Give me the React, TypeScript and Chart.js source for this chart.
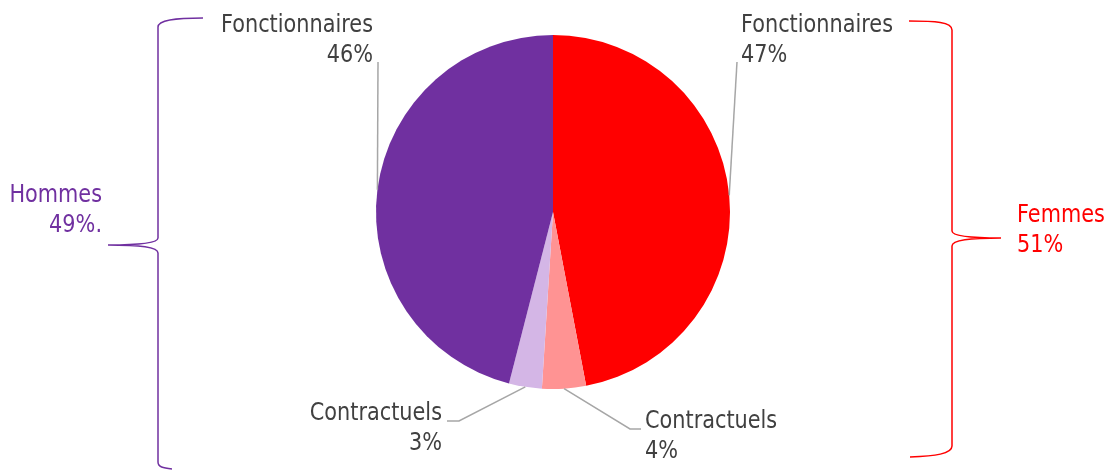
import React, { useEffect, useRef } from "react";
import { Chart, registerables } from "chart.js";

Chart.register(...registerables);

const categories = ["Fonctionnaires", "Contractuels", "Contractuels", "Fonctionnaires"];
const values = [47, 4, 3, 46];
const percentLabels = ["47%", "4%", "3%", "46%"];
const groupNames = ["Femmes", "Hommes"];
const groupPercents = ["51%", "49%."];

const sliceColors = ["#FF0000", "#FF9393", "#D4B6E6", "#7030A0"];
const groupColors = ["#FF0000", "#7030A0"];

// label layout: text anchor, alignment, leader path points after the arc midpoint
const labelLayout = [
  { x: 741, y: 32, align: "left", path: [[737, 62]] },
  { x: 645, y: 428, align: "left", path: [[630, 429], [641, 429]] },
  { x: 442, y: 420, align: "right", path: [[459, 421], [447, 421]] },
  { x: 373, y: 32, align: "right", path: [[378, 62]] },
];

const FONT = "24px 'DejaVu Sans'";
const TEXT_COLOR = "#404040";
const LINE_GAP = 30;

function drawText(ctx: CanvasRenderingContext2D, sx: number, text: string, x: number, y: number, align: CanvasTextAlign, color: string) {
  ctx.save();
  ctx.translate(x, y);
  ctx.scale(sx, 1);
  ctx.font = FONT;
  ctx.textAlign = align;
  ctx.textBaseline = "alphabetic";
  ctx.fillStyle = color;
  ctx.fillText(text, 0, 0);
  ctx.restore();
}

const annotations = {
  id: "annotations",
  afterDraw(chart: any) {
    const ctx: CanvasRenderingContext2D = chart.ctx;
    ctx.save();
    ctx.font = FONT;
    const sx = 152 / ctx.measureText("Fonctionnaires").width;
    const meta = chart.getDatasetMeta(0);
    meta.data.forEach((arc: any, i: number) => {
      const { x, y, startAngle, endAngle, outerRadius } = arc.getProps(["x", "y", "startAngle", "endAngle", "outerRadius"], true);
      const mid = (startAngle + endAngle) / 2;
      const px = x + Math.cos(mid) * outerRadius;
      const py = y + Math.sin(mid) * outerRadius;
      const L = labelLayout[i];
      ctx.beginPath();
      ctx.strokeStyle = "#A6A6A6";
      ctx.lineWidth = 1.5;
      ctx.moveTo(px, py);
      L.path.forEach((p) => ctx.lineTo(p[0], p[1]));
      ctx.stroke();
      drawText(ctx, sx, categories[i], L.x, L.y, L.align as CanvasTextAlign, TEXT_COLOR);
      drawText(ctx, sx, percentLabels[i], L.x, L.y + LINE_GAP, L.align as CanvasTextAlign, TEXT_COLOR);
    });

    // right brace (Femmes)
    ctx.lineWidth = 1.5;
    ctx.strokeStyle = groupColors[0];
    ctx.beginPath();
    ctx.moveTo(909, 21);
    ctx.bezierCurveTo(935, 21, 952, 22, 952, 30);
    ctx.lineTo(952, 231);
    ctx.bezierCurveTo(952, 236, 970, 238, 1001, 238);
    ctx.moveTo(1001, 238);
    ctx.bezierCurveTo(970, 238, 952, 240, 952, 246);
    ctx.lineTo(952, 446);
    ctx.bezierCurveTo(952, 454, 935, 456, 910, 457);
    ctx.stroke();

    // left brace (Hommes)
    ctx.strokeStyle = groupColors[1];
    ctx.beginPath();
    ctx.moveTo(203, 18);
    ctx.bezierCurveTo(175, 18, 158, 20, 158, 27);
    ctx.lineTo(158, 238);
    ctx.bezierCurveTo(158, 243, 140, 245, 108, 245);
    ctx.moveTo(108, 245);
    ctx.bezierCurveTo(140, 245, 158, 247, 158, 253);
    ctx.lineTo(158, 462);
    ctx.bezierCurveTo(158, 467, 163, 468, 172, 469);
    ctx.stroke();

    drawText(ctx, sx, groupNames[0], 1017, 222, "left", groupColors[0]);
    drawText(ctx, sx, groupPercents[0], 1017, 252, "left", groupColors[0]);
    drawText(ctx, sx, groupNames[1], 102, 202, "right", groupColors[1]);
    drawText(ctx, sx, groupPercents[1], 102, 232, "right", groupColors[1]);
    ctx.restore();
  },
};

export default function App() {
  const ref = useRef<HTMLCanvasElement | null>(null);
  useEffect(() => {
    if (!ref.current) return;
    const chart = new Chart(ref.current, {
      type: "pie",
      data: {
        labels: categories,
        datasets: [
          {
            data: values,
            backgroundColor: sliceColors,
            borderWidth: 0,
          },
        ],
      },
      options: {
        responsive: false,
        animation: false,
        layout: { padding: { top: 35, bottom: 81, left: 0, right: 5 } },
        plugins: {
          legend: { display: false },
          tooltip: { enabled: false },
        },
      },
      plugins: [annotations],
    });
    return () => chart.destroy();
  }, []);
  return (
    <div style={{ position: "absolute", left: 0, top: 0, width: 1111, height: 470, background: "#fff" }}>
      <canvas ref={ref} width={1111} height={470} />
    </div>
  );
}
